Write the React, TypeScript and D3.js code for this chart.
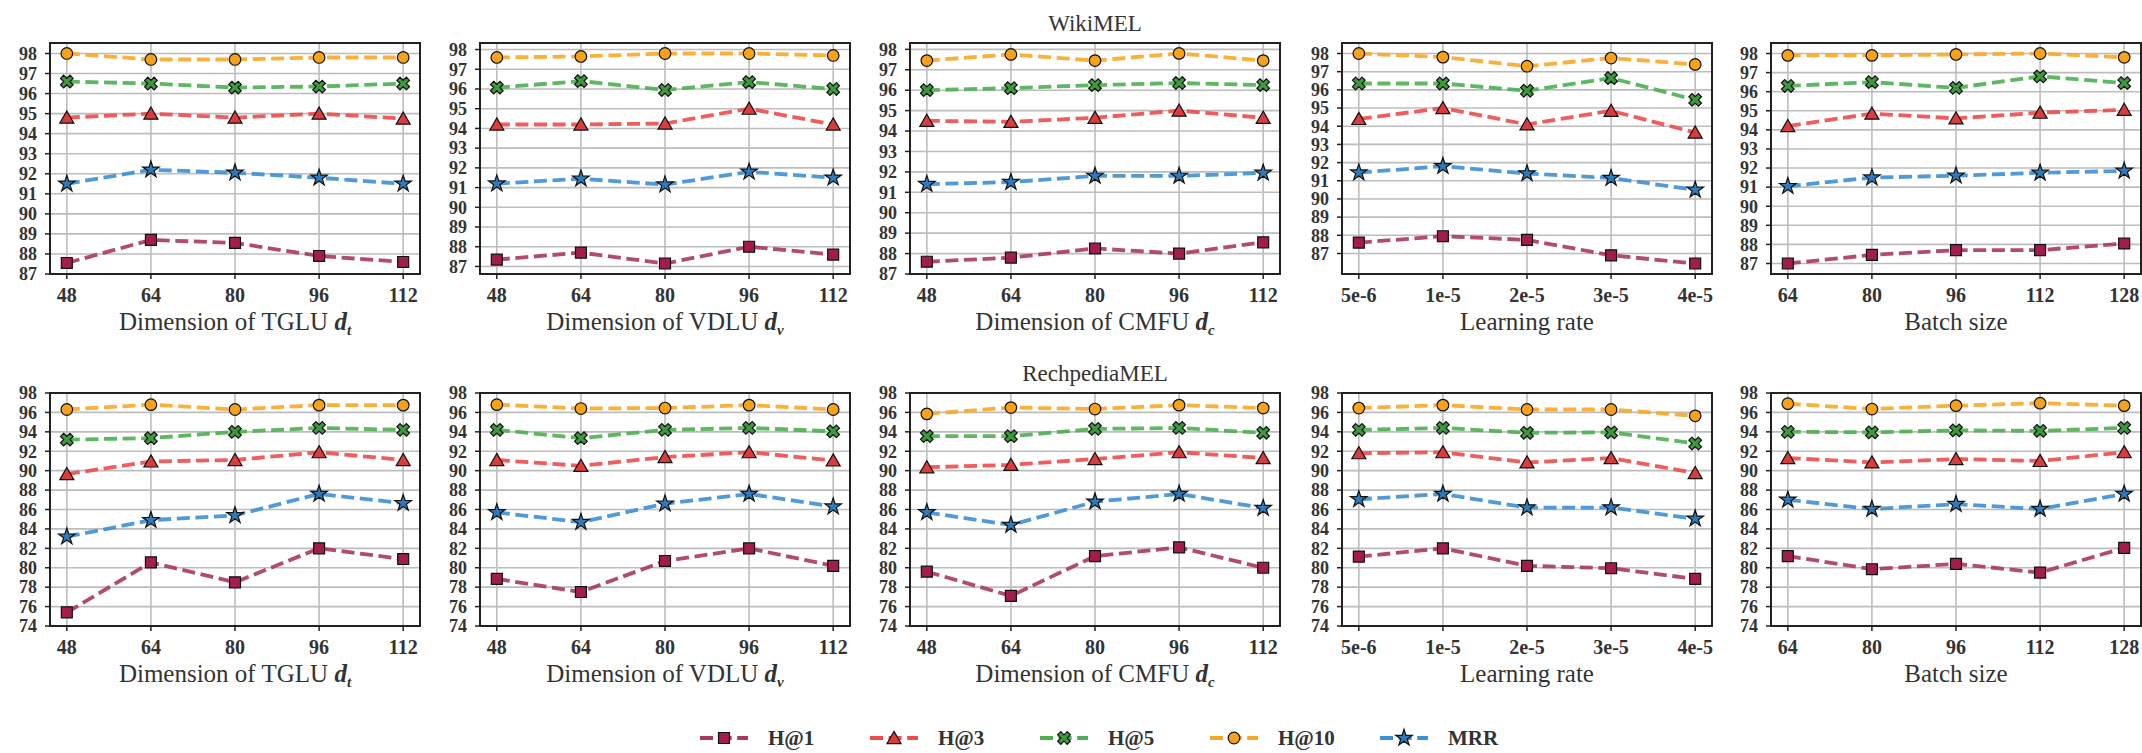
import React from 'react';
import * as d3 from 'd3';

// x tick labels
const dimTicks = ['48', '64', '80', '96', '112'];
const lrTicks = ['5e-6', '1e-5', '2e-5', '3e-5', '4e-5'];
const batchTicks = ['64', '80', '96', '112', '128'];

const seriesNames = ['H@1', 'H@3', 'H@5', 'H@10', 'MRR'];
const lineColors = ['#a8385f', '#ee4b4b', '#4caf50', '#f9a825', '#3d8fd6'];
const markerFills = ['#a01d4d', '#d83c3c', '#3c9a3c', '#f6a21b', '#2f7ab8'];

const wikiTicks = d3.range(87, 99, 1);
const rechTicks = d3.range(74, 100, 2);

// WikiMEL, rows: H@1, H@3, H@5, H@10, MRR
const wikiTGLU = [
  [87.55, 88.7, 88.55, 87.9, 87.6],
  [94.8, 95.0, 94.8, 95.0, 94.75],
  [96.6, 96.5, 96.3, 96.35, 96.5],
  [98.0, 97.7, 97.7, 97.8, 97.8],
  [91.5, 92.2, 92.05, 91.8, 91.5],
];
const wikiVDLU = [
  [87.35, 87.7, 87.15, 88.0, 87.6],
  [94.2, 94.2, 94.25, 95.0, 94.2],
  [96.07, 96.4, 95.95, 96.35, 96.0],
  [97.6, 97.65, 97.8, 97.8, 97.7],
  [91.2, 91.45, 91.15, 91.8, 91.5],
];
const wikiCMFU = [
  [87.6, 87.8, 88.25, 88.0, 88.55],
  [94.5, 94.45, 94.65, 95.0, 94.65],
  [96.0, 96.1, 96.25, 96.35, 96.25],
  [97.45, 97.75, 97.45, 97.8, 97.45],
  [91.4, 91.5, 91.8, 91.8, 91.95],
];
const wikiLR = [
  [87.6, 87.95, 87.75, 86.9, 86.45],
  [94.4, 95.0, 94.1, 94.85, 93.65],
  [96.35, 96.35, 95.95, 96.65, 95.45],
  [98.0, 97.8, 97.3, 97.75, 97.4],
  [91.45, 91.8, 91.4, 91.15, 90.5],
];
const wikiBatch = [
  [87.0, 87.45, 87.7, 87.7, 88.05],
  [94.2, 94.85, 94.6, 94.9, 95.05],
  [96.3, 96.5, 96.2, 96.8, 96.45],
  [97.9, 97.9, 97.95, 98.0, 97.8],
  [91.05, 91.5, 91.6, 91.75, 91.85],
];

// RechpediaMEL
const rechTGLU = [
  [75.4, 80.55, 78.5, 82.0, 80.9],
  [89.65, 90.95, 91.1, 91.9, 91.1],
  [93.2, 93.35, 94.0, 94.4, 94.2],
  [96.3, 96.8, 96.3, 96.75, 96.75],
  [83.2, 84.9, 85.4, 87.6, 86.65],
];
const rechVDLU = [
  [78.85, 77.5, 80.7, 82.0, 80.2],
  [91.1, 90.5, 91.4, 91.9, 91.05],
  [94.2, 93.35, 94.2, 94.4, 94.05],
  [96.8, 96.4, 96.45, 96.75, 96.3],
  [85.7, 84.7, 86.6, 87.6, 86.3],
];
const rechCMFU = [
  [79.6, 77.1, 81.2, 82.1, 80.0],
  [90.35, 90.6, 91.2, 91.9, 91.3],
  [93.55, 93.55, 94.3, 94.4, 93.9],
  [95.85, 96.5, 96.35, 96.75, 96.45],
  [85.7, 84.4, 86.8, 87.6, 86.15],
];
const rechLR = [
  [81.15, 82.0, 80.2, 79.95, 78.85],
  [91.8, 91.9, 90.85, 91.3, 89.75],
  [94.2, 94.4, 93.9, 93.95, 92.8],
  [96.45, 96.75, 96.3, 96.3, 95.65],
  [87.05, 87.6, 86.2, 86.2, 85.05],
];
const rechBatch = [
  [81.2, 79.85, 80.4, 79.5, 82.05],
  [91.3, 90.85, 91.2, 91.0, 91.9],
  [94.0, 93.95, 94.15, 94.1, 94.4],
  [96.9, 96.35, 96.7, 96.95, 96.7],
  [87.0, 86.05, 86.55, 86.05, 87.6],
];

const W = 2142;
const H = 753;
const panelLefts = [50, 480, 910, 1342, 1771];
const panelW = 370;
const FONT = 'Liberation Serif, Times New Roman, serif';

const symbolTypes = [d3.symbolSquare, d3.symbolTriangle, d3.symbolCross, d3.symbolCircle, d3.symbolStar];
const symbolSizes = [120, 85, 100, 105, 85];
const symbolRot = [0, 0, 45, 0, 0];

function Marker({ i, x, y }: { i: number; x: number; y: number }) {
  const p = d3.symbol().type(symbolTypes[i]).size(symbolSizes[i])() as string;
  const dy = i === 1 ? 1.5 : 0;
  return (
    <path d={p} transform={`translate(${x},${y + dy}) rotate(${symbolRot[i]})`}
      fill={markerFills[i]} stroke="#111" strokeWidth={1.2} />
  );
}

function XLabel({ x, y, pre, sub }: { x: number; y: number; pre: string; sub?: string }) {
  return (
    <text x={x} y={y} textAnchor="middle" fontFamily={FONT} fontSize={25} fill="#333">
      {pre}
      {sub && <tspan fontWeight="bold" fontStyle="italic">d</tspan>}
      {sub && <tspan fontWeight="bold" fontStyle="italic" fontSize={15} dy={5}>{sub}</tspan>}
    </text>
  );
}

type PanelProps = {
  left: number; top: number; height: number;
  xTicks: string[]; data: number[][]; yTicks: number[];
  pre: string; sub?: string;
};

function Panel({ left, top, height, xTicks, data, yTicks, pre, sub }: PanelProps) {
  const x = d3.scalePoint<string>().domain(xTicks).range([0, panelW]).padding(0.2);
  const all = data.flat();
  const [lo, hi] = d3.extent(all) as [number, number];
  const pad = (hi - lo) * 0.05;
  const y0 = Math.min(lo - pad, yTicks[0]);
  const y1 = Math.max(hi + pad, yTicks[yTicks.length - 1]);
  const y = d3.scaleLinear().domain([y0, y1]).range([height, 0]);
  const line = d3.line<number>().x((_, j) => x(xTicks[j]) as number).y(d => y(d));

  return (
    <g transform={`translate(${left},${top})`}>
      {yTicks.map(t => (
        <line key={'gy' + t} x1={0} x2={panelW} y1={y(t)} y2={y(t)} stroke="#bdbdbd" strokeWidth={1.6} />
      ))}
      {xTicks.map(t => (
        <line key={'gx' + t} x1={x(t)} x2={x(t)} y1={0} y2={height} stroke="#bdbdbd" strokeWidth={1.6} />
      ))}
      {data.map((s, i) => (
        <path key={'l' + i} d={line(s) as string} fill="none" stroke={lineColors[i]}
          strokeWidth={3.8} strokeDasharray="13,5.6" opacity={0.9} />
      ))}
      {data.map((s, i) => s.map((v, j) => (
        <Marker key={`m${i}-${j}`} i={i} x={x(xTicks[j]) as number} y={y(v)} />
      )))}
      <rect x={0} y={0} width={panelW} height={height} fill="none" stroke="#222" strokeWidth={2} />
      {yTicks.map(t => (
        <g key={'ty' + t} transform={`translate(0,${y(t)})`}>
          <line x1={-5} x2={0} stroke="#222" strokeWidth={1.5} />
          <text x={-13} dy="0.35em" textAnchor="end" fontFamily={FONT} fontWeight="bold"
            fontSize={18} fill="#333">{t}</text>
        </g>
      ))}
      {xTicks.map(t => (
        <g key={'tx' + t} transform={`translate(${x(t)},${height})`}>
          <line y1={0} y2={5} stroke="#222" strokeWidth={1.5} />
          <text y={28} textAnchor="middle" fontFamily={FONT} fontWeight="bold"
            fontSize={20} fill="#333">{t}</text>
        </g>
      ))}
      <XLabel x={panelW / 2} y={height + 56} pre={pre} sub={sub} />
    </g>
  );
}

export default function App() {
  const topRow = [wikiTGLU, wikiVDLU, wikiCMFU, wikiLR, wikiBatch];
  const botRow = [rechTGLU, rechVDLU, rechCMFU, rechLR, rechBatch];
  const xt = [dimTicks, dimTicks, dimTicks, lrTicks, batchTicks];
  const pres = ['Dimension of TGLU ', 'Dimension of VDLU ', 'Dimension of CMFU ', 'Learning rate', 'Batch size'];
  const subs = ['t', 'v', 'c', undefined, undefined];

  return (
    <svg width={W} height={H} style={{ position: 'absolute', left: 0, top: 0, background: '#fff' }}>
      <text x={1095} y={31} textAnchor="middle" fontFamily={FONT} fontSize={23} fill="#333">WikiMEL</text>
      <text x={1095} y={381} textAnchor="middle" fontFamily={FONT} fontSize={23} fill="#333">RechpediaMEL</text>
      {topRow.map((d, k) => (
        <Panel key={'t' + k} left={panelLefts[k]} top={43} height={231} xTicks={xt[k]} data={d}
          yTicks={wikiTicks} pre={pres[k]} sub={subs[k]} />
      ))}
      {botRow.map((d, k) => (
        <Panel key={'b' + k} left={panelLefts[k]} top={393} height={233} xTicks={xt[k]} data={d}
          yTicks={rechTicks} pre={pres[k]} sub={subs[k]} />
      ))}
      {seriesNames.map((n, i) => {
        const lx = 700 + i * 170;
        const ly = 738;
        return (
          <g key={'lg' + i}>
            <line x1={lx} x2={lx + 48} y1={ly} y2={ly} stroke={lineColors[i]} strokeWidth={3.8}
              strokeDasharray="13,5.6" />
            <Marker i={i} x={lx + 24} y={ly} />
            <text x={lx + 68} y={ly} dy="0.35em" fontFamily={FONT} fontWeight="bold" fontSize={21}
              fill="#333">{n}</text>
          </g>
        );
      })}
    </svg>
  );
}
